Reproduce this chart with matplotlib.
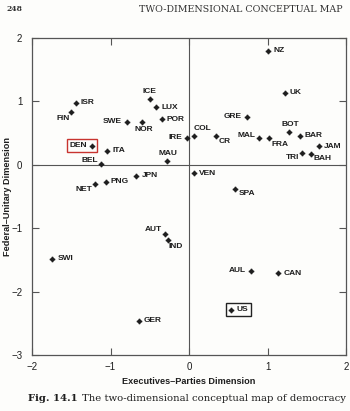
import matplotlib
matplotlib.use("Agg")
import matplotlib.pyplot as plt
from matplotlib.patches import Rectangle

# Countries and their coordinates on the two dimensions
countries = ["NZ", "UK", "ISR", "FIN", "ICE", "LUX", "POR", "SWE", "NOR",
             "DEN", "ITA", "BEL", "MAU", "IRE", "COL", "CR", "GRE", "MAL",
             "FRA", "BOT", "BAR", "JAM", "TRI", "BAH", "JPN", "PNG", "NET",
             "VEN", "SPA", "AUT", "IND", "SWI", "AUL", "CAN", "US", "GER"]
exec_parties = [1.01, 1.22, -1.44, -1.50, -0.50, -0.42, -0.35, -0.79, -0.60,
                -1.23, -1.04, -1.12, -0.28, -0.02, 0.06, 0.34, 0.74, 0.89,
                1.02, 1.27, 1.41, 1.65, 1.44, 1.55, -0.67, -1.06, -1.20,
                0.06, 0.59, -0.31, -0.27, -1.74, 0.79, 1.14, 0.54, -0.64]
federal_unitary = [1.80, 1.14, 0.98, 0.84, 1.03, 0.91, 0.72, 0.68, 0.68,
                   0.30, 0.22, 0.02, 0.06, 0.43, 0.46, 0.46, 0.76, 0.42,
                   0.42, 0.52, 0.46, 0.29, 0.18, 0.17, -0.17, -0.27, -0.30,
                   -0.13, -0.38, -1.09, -1.18, -1.48, -1.67, -1.71, -2.29, -2.46]

x_ticks = [-2, -1, 0, 1, 2]
y_ticks = [-3, -2, -1, 0, 1, 2]

# label placement: (dx, dy) in pixels from the point, horizontal alignment
R, L = (5, 0, "left"), (-5, 0, "right")
placement = {
    "NZ": R, "UK": R, "ISR": R, "FIN": (-1, -7, "right"), "ICE": (0, 8, "center"),
    "LUX": R, "POR": R, "SWE": L, "NOR": (2, -8, "center"), "DEN": L, "ITA": R,
    "BEL": (-3, 3, "right"), "MAU": (1, 7, "center"), "IRE": L,
    "COL": (0, 7, "left"), "CR": (3, -6, "left"), "GRE": L, "MAL": (-3, 3, "right"),
    "FRA": (2, -6, "left"), "BOT": (2, 7, "center"), "BAR": R, "JAM": R,
    "TRI": (-3, -4, "right"), "BAH": (3, -4, "left"), "JPN": R, "PNG": R,
    "NET": (-3, -6, "right"), "VEN": R, "SPA": (3, -5, "left"),
    "AUT": (-3, 4, "right"), "IND": (1, -7, "left"), "SWI": R, "AUL": L,
    "CAN": R, "US": R, "GER": R,
}
boxed = {"DEN": "#c8342f", "US": "#222222"}

ink = "#1e1e1e"
frame = "#555555"
fig = plt.figure(figsize=(3.5, 4.11), dpi=100, facecolor="#fdfdfb")
ax = fig.add_axes([32 / 350, 1 - 355 / 411, 314 / 350, 317 / 411])
ax.set_facecolor("#fdfdfb")

ax.set_xlim(-2, 2)
ax.set_ylim(-3, 2)
ax.set_xticks(x_ticks)
ax.set_yticks(y_ticks)
ax.tick_params(direction="in", length=5, width=0.8, color=frame,
               top=True, right=True, labelsize=7, labelcolor=ink)
ax.tick_params(axis="y", pad=7)
ax.tick_params(axis="x", pad=5)
for lab in ax.get_xticklabels() + ax.get_yticklabels():
    lab.set_fontfamily("Liberation Sans")
for s in ax.spines.values():
    s.set_color(frame)
    s.set_linewidth(0.9)

ax.axhline(0, color=frame, lw=0.8, zorder=1)
ax.axvline(0, color=frame, lw=0.8, zorder=1)

ax.plot(exec_parties, federal_unitary, linestyle="none", marker=(4, 1, 0),
        markersize=3.6, color=ink, zorder=3)

texts = {}
for name, x, y in zip(countries, exec_parties, federal_unitary):
    dx, dy, ha = placement[name]
    texts[name] = ax.annotate(name, (x, y), xytext=(dx, dy),
                              textcoords="offset pixels", ha=ha, va="center",
                              fontsize=6, fontweight="bold",
                              fontfamily="Liberation Sans", color=ink)

ax.set_xlabel("Executives\u2013Parties Dimension", fontsize=6.6,
              fontweight="bold", fontfamily="Liberation Sans", color=ink)
ax.set_ylabel("Federal\u2013Unitary Dimension", fontsize=6.6,
              fontweight="bold", fontfamily="Liberation Sans", color=ink)
ax.xaxis.set_label_coords(0.5, -0.07)
ax.yaxis.set_label_coords(-0.064, 0.5)

# boxes drawn around selected labels together with their points
fig.canvas.draw()
renderer = fig.canvas.get_renderer()
inv = fig.transFigure.inverted()
for name, col in boxed.items():
    i = countries.index(name)
    bb = texts[name].get_window_extent(renderer)
    px, py = ax.transData.transform((exec_parties[i], federal_unitary[i]))
    x0 = min(bb.x0, px - 2) - 3
    x1 = max(bb.x1, px + 2) + 3
    y0 = min(bb.y0, py - 2) - 3
    y1 = max(bb.y1, py + 2) + 3
    (fx0, fy0), (fx1, fy1) = inv.transform([(x0, y0), (x1, y1)])
    fig.add_artist(Rectangle((fx0, fy0), fx1 - fx0, fy1 - fy0, fill=False,
                             edgecolor=col, lw=1.0, transform=fig.transFigure))

# running head and caption
fig.text(6 / 350, 1 - 9 / 411, "248", fontsize=5.5, fontweight="bold",
         fontfamily="DejaVu Serif", color="#333333", va="center")
fig.text(343 / 350, 1 - 9 / 411, "TWO-DIMENSIONAL CONCEPTUAL MAP", fontsize=6.8,
         fontfamily="DejaVu Serif", color="#333333", va="center", ha="right")
fig.text(28 / 350, 1 - 398 / 411, "Fig. 14.1", fontsize=7.3, fontweight="bold",
         fontfamily="DejaVu Serif", color=ink, va="center")
fig.text(346 / 350, 1 - 398 / 411, "The two-dimensional conceptual map of democracy",
         fontsize=7.3, fontfamily="DejaVu Serif", color=ink, va="center", ha="right")

fig.savefig("out.png", dpi=100, facecolor=fig.get_facecolor())
